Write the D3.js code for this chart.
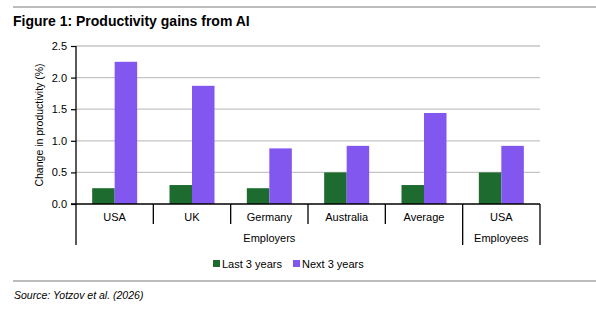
<!DOCTYPE html>
<html>
<head>
<meta charset="utf-8">
<script src="https://cdn.jsdelivr.net/npm/d3@7"></script>
<style>
body { margin: 0; background: #fff; }
text { font-family: "Liberation Sans", Arial, sans-serif; fill: #000; }
</style>
</head>
<body>
<script>
var categories = ["USA", "UK", "Germany", "Australia", "Average", "USA"];
var groups = [{name: "Employers", from: 0, to: 4}, {name: "Employees", from: 5, to: 5}];
var seriesNames = ["Last 3 years", "Next 3 years"];
var lastValues = [0.25, 0.30, 0.25, 0.50, 0.30, 0.50];
var nextValues = [2.25, 1.87, 0.88, 0.92, 1.44, 0.92];
var yTicks = [0, 0.5, 1.0, 1.5, 2.0, 2.5];
var colors = ["#1d6b2e", "#8257f0"];

var W = 596, H = 309;
var svg = d3.select("body").append("svg").attr("width", W).attr("height", H);

// rules + title + source
svg.append("line").attr("x1", 13).attr("x2", W).attr("y1", 7).attr("y2", 7)
    .attr("stroke", "#a6a6a6").attr("stroke-width", 1.5);
svg.append("line").attr("x1", 13).attr("x2", W).attr("y1", 281).attr("y2", 281)
    .attr("stroke", "#a6a6a6").attr("stroke-width", 1.5);
svg.append("text").attr("x", 13).attr("y", 26).attr("font-size", 14)
    .attr("font-weight", "bold").text("Figure 1: Productivity gains from AI");
svg.append("text").attr("x", 14).attr("y", 299).attr("font-size", 10.5)
    .attr("font-style", "italic").text("Source: Yotzov et al. (2026)");

var pLeft = 76, pRight = 540, pTop = 46, pBottom = 204;
var x = d3.scaleBand().domain(d3.range(categories.length)).range([pLeft, pRight]);
var y = d3.scaleLinear().domain([0, 2.5]).range([pBottom, pTop]);
var xs = d3.scaleBand().domain([0, 1]).range([0, 45]);

// gridlines
svg.append("g").selectAll("line").data(yTicks.slice(1)).enter().append("line")
    .attr("x1", pLeft).attr("x2", pRight)
    .attr("y1", function(d){ return y(d); }).attr("y2", function(d){ return y(d); })
    .attr("stroke", "#c4c4c4").attr("stroke-width", 1.3);

// bars
var series = [lastValues, nextValues];
series.forEach(function(vals, s){
    svg.append("g").selectAll("rect").data(vals).enter().append("rect")
        .attr("x", function(d, i){ return x(i) + (x.bandwidth() - 45) / 2 + xs(s); })
        .attr("width", xs.bandwidth())
        .attr("y", function(d){ return y(d); })
        .attr("height", function(d){ return y(0) - y(d); })
        .attr("fill", colors[s]);
});

// y axis
var yAxis = d3.axisLeft(y).tickValues(yTicks).tickFormat(d3.format(".1f")).tickSize(5).tickPadding(4);
var ya = svg.append("g").attr("transform", "translate(" + pLeft + ",0)").call(yAxis);
ya.select(".domain").attr("stroke", "#000").attr("stroke-width", 1.3).attr("d", "M0," + pTop + "V" + pBottom);
ya.selectAll(".tick line").attr("stroke", "#000").attr("stroke-width", 1.2);
ya.selectAll("text").attr("font-size", 11).attr("font-family", "Liberation Sans, Arial, sans-serif").attr("fill", "#000");

svg.append("text").attr("transform", "translate(43," + ((pTop + pBottom) / 2) + ") rotate(-90)")
    .attr("text-anchor", "middle").attr("font-size", 10.5).text("Change in productivity (%)");

// x axis baseline
svg.append("line").attr("x1", pLeft - 5).attr("x2", pRight).attr("y1", pBottom).attr("y2", pBottom)
    .attr("stroke", "#000").attr("stroke-width", 1.4);

// category dividers and labels
var ax = svg.append("g");
d3.range(categories.length + 1).forEach(function(i){
    var xx = i < categories.length ? x(i) : pRight;
    var isGroupEdge = groups.some(function(g){ return g.from === i || g.to + 1 === i; });
    ax.append("line").attr("x1", xx).attr("x2", xx).attr("y1", pBottom)
        .attr("y2", isGroupEdge ? 245 : 224).attr("stroke", "#000").attr("stroke-width", 1.3);
});
ax.selectAll("text.cat").data(categories).enter().append("text").attr("class", "cat")
    .attr("x", function(d, i){ return x(i) + x.bandwidth() / 2; }).attr("y", 221)
    .attr("text-anchor", "middle").attr("font-size", 11).text(function(d){ return d; });
ax.selectAll("text.grp").data(groups).enter().append("text").attr("class", "grp")
    .attr("x", function(g){ return (x(g.from) + x(g.to) + x.bandwidth()) / 2; }).attr("y", 242)
    .attr("text-anchor", "middle").attr("font-size", 11).text(function(g){ return g.name; });

// legend
var lx = [213, 293];
var lg = svg.append("g").selectAll("g").data(seriesNames).enter().append("g")
    .attr("transform", function(d, i){ return "translate(" + lx[i] + ",261)"; });
lg.append("rect").attr("x", 0).attr("y", -1).attr("width", 7).attr("height", 7)
    .attr("fill", function(d, i){ return colors[i]; });
lg.append("text").attr("x", 9).attr("y", 7).attr("font-size", 11).text(function(d){ return d; });
</script>
</body>
</html>
